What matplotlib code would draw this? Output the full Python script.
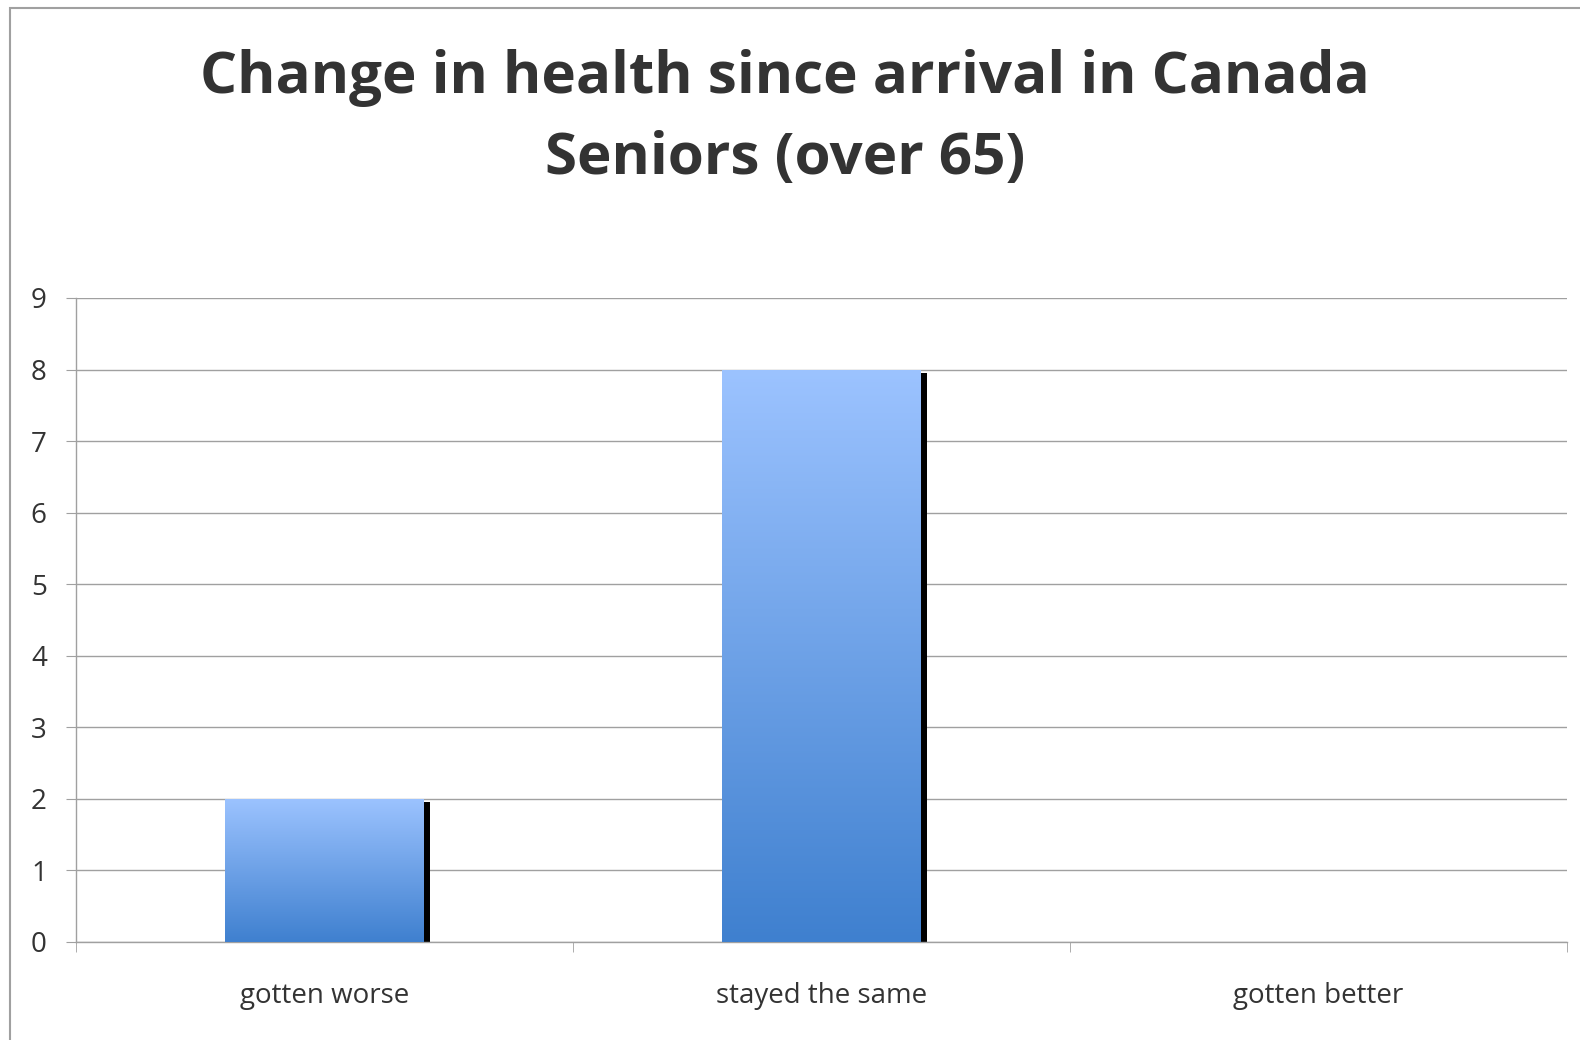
import numpy as np
import matplotlib
matplotlib.use("Agg")
import matplotlib.pyplot as plt
from matplotlib.patches import Rectangle

# data
categories = ["gotten worse", "stayed the same", "gotten better"]
counts = [2, 8, 0]
yticks = list(range(0, 10))
title_lines = ["Change in health since arrival in Canada", "Seniors (over 65)"]

plt.rcParams["font.family"] = ["Open Sans", "DejaVu Sans"]
text_col = "#333333"
grid_col = "#a0a0a0"

fig = plt.figure(figsize=(15.8, 10.4), dpi=100)
ax = fig.add_axes([76 / 1580, 1 - 942 / 1040, (1567 - 76) / 1580, (942 - 298) / 1040])

x = np.arange(len(categories))
w = 0.40

# gradient image: light on top, darker at the bottom
top_c = np.array([0x9C, 0xC3, 0xFF]) / 255
bot_c = np.array([0x3F, 0x80, 0xCF]) / 255
t = np.linspace(0, 1, 256)[:, None]
grad = (top_c * (1 - t) + bot_c * t)[:, None, :]

for xi, v in zip(x, counts):
    if v <= 0:
        continue
    # black shadow on the right edge
    ax.bar(xi + w / 2 + 0.006, v - 0.05, width=0.012, bottom=0, color="black", zorder=2)
    bar = ax.bar(xi, v, width=w, color="none", zorder=3)[0]
    img = ax.imshow(grad, extent=[xi - w / 2, xi + w / 2, 0, v], aspect="auto",
                    zorder=3, interpolation="bilinear")
    img.set_clip_path(bar)

ax.set_xlim(-0.5, len(categories) - 0.5)
ax.set_ylim(0, 9)
ax.set_yticks(yticks)
ax.set_xticks(x)
ax.set_xticklabels(categories)
ax.set_xticks(np.arange(-0.5, len(categories)), minor=True)

ax.grid(axis="y", color=grid_col, linewidth=1)
ax.set_axisbelow(True)
for s in ["top", "right"]:
    ax.spines[s].set_visible(False)
for s in ["left", "bottom"]:
    ax.spines[s].set_color(grid_col)
    ax.spines[s].set_linewidth(1)

ax.tick_params(axis="y", length=7, color=grid_col, pad=14, labelsize=20, labelcolor=text_col)
ax.tick_params(axis="x", which="major", length=0, pad=29, labelsize=20, labelcolor=text_col)
ax.tick_params(axis="x", which="minor", length=7, color=grid_col)

# title
fig.text(785 / 1580, 1 - 78 / 1040, title_lines[0], ha="center", va="center",
         fontsize=42, fontweight="bold", color=text_col)
fig.text(785 / 1580, 1 - 159 / 1040, title_lines[1], ha="center", va="center",
         fontsize=42, fontweight="bold", color=text_col)

# outer frame of the chart area
fig.patches.append(Rectangle((10 / 1580, -0.05), 1.1, 1 - 8 / 1040 + 0.05,
                             transform=fig.transFigure, fill=False,
                             edgecolor="#a0a0a0", linewidth=1.5))

fig.savefig("out.png", dpi=100)
